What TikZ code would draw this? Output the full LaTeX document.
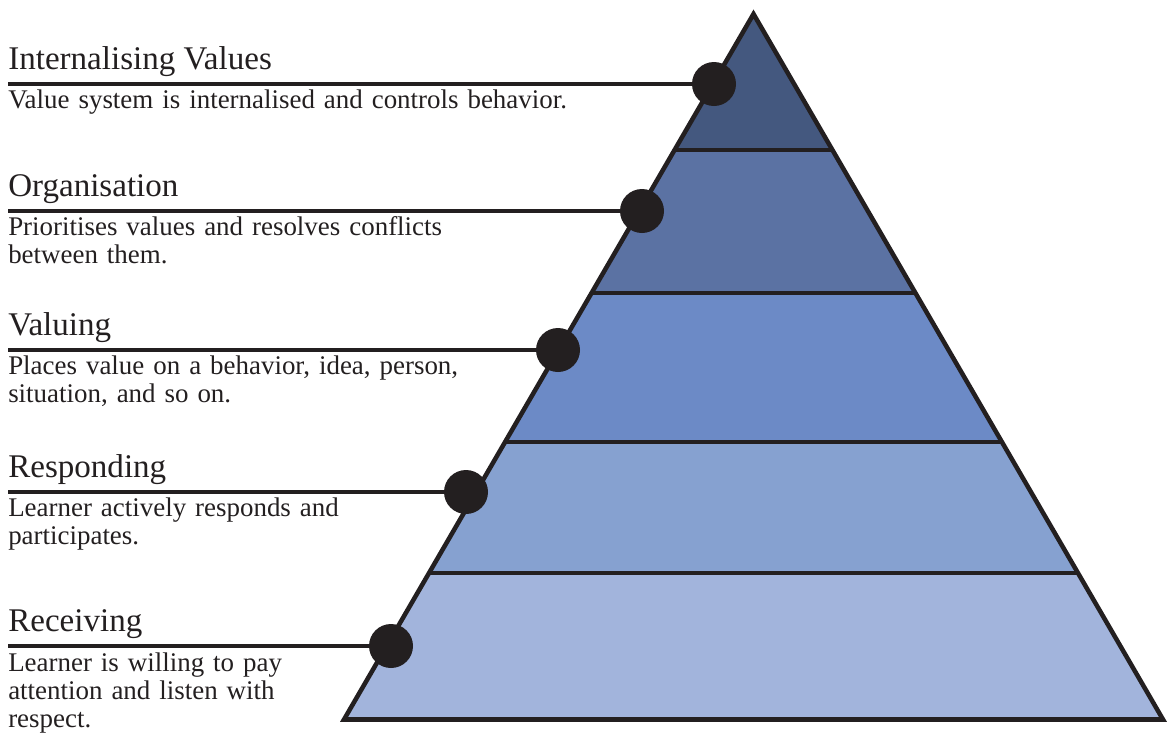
\documentclass[tikz,border=0pt]{standalone}
\usepackage{fontspec}
\setmainfont{Liberation Serif}
\definecolor{ink}{HTML}{231F20}
\definecolor{lvlA}{HTML}{44587F}
\definecolor{lvlB}{HTML}{5B72A3}
\definecolor{lvlC}{HTML}{6C8AC6}
\definecolor{lvlD}{HTML}{86A1D0}
\definecolor{lvlE}{HTML}{A2B4DC}
\tikzset{
  lvltitle/.style={anchor=base west,inner sep=0pt,text=ink,font=\fontsize{24.8}{26}\selectfont},
  lvldesc/.style={anchor=base west,inner sep=0pt,text=ink,align=left,text width=450pt,font=\fontsize{20.2}{21}\selectfont},
  lvldot/.style={circle,fill=ink,inner sep=0pt,minimum size=33pt},
  lead/.style={ink,line width=2.3pt},
  bandline/.style={ink,line width=3pt},
  outline/.style={ink,line width=3.4pt,line join=miter}
}
\begin{document}
\begin{tikzpicture}[x=0.75pt,y=-0.75pt]
\useasboundingbox (0,0) rectangle (1168,740);
% pyramid
\coordinate (apex) at (753.5,14);
\coordinate (bl) at (344,719.5);
\coordinate (br) at (1163,719.5);
\begin{scope}
  \clip (apex) -- (bl) -- (br) -- cycle;
  \fill[lvlA] (300,0) rectangle (1200,150);
  \fill[lvlB] (300,150) rectangle (1200,293);
  \fill[lvlC] (300,293) rectangle (1200,442);
  \fill[lvlD] (300,442) rectangle (1200,573);
  \fill[lvlE] (300,573) rectangle (1200,730);
  \foreach \y in {150,293,442,573}
    \draw[bandline] (300,\y) -- (1200,\y);
\end{scope}
\draw[outline] (apex) -- (bl) -- (br) -- cycle;
% internalising values
\node[lvldot] (dotA) at (714,84) {};
\coordinate (leadA) at (8,84);
\draw[lead] (leadA) -- (dotA);
\node[lvltitle] (headA) at (8,69) {Internalising Values};
\node[lvldesc] (textA) at (8,108) {Value system is internalised and controls behavior.};
% organisation
\node[lvldot] (dotB) at (642,211) {};
\coordinate (leadB) at (8,211);
\draw[lead] (leadB) -- (dotB);
\node[lvltitle] (headB) at (8,196) {Organisation};
\node[lvldesc] (textB) at (8,235) {Prioritises values and resolves conflicts\\between them.};
% valuing
\node[lvldot] (dotC) at (558,350) {};
\coordinate (leadC) at (8,350);
\draw[lead] (leadC) -- (dotC);
\node[lvltitle] (headC) at (8,335) {Valuing};
\node[lvldesc] (textC) at (8,374) {Places value on a behavior, idea, person,\\situation, and so on.};
% responding
\node[lvldot] (dotD) at (466,492) {};
\coordinate (leadD) at (8,492);
\draw[lead] (leadD) -- (dotD);
\node[lvltitle] (headD) at (8,477) {Responding};
\node[lvldesc] (textD) at (8,516) {Learner actively responds and\\participates.};
% receiving
\node[lvldot] (dotE) at (391,646) {};
\coordinate (leadE) at (8,646);
\draw[lead] (leadE) -- (dotE);
\node[lvltitle] (headE) at (8,631) {Receiving};
\node[lvldesc] (textE) at (8,671) {Learner is willing to pay\\attention and listen with\\respect.};
\end{tikzpicture}
\end{document}
